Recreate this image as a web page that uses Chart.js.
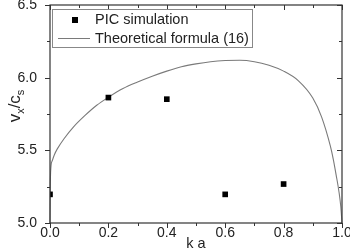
<!DOCTYPE html>
<html>
<head>
<meta charset="utf-8">
<script src="https://cdn.jsdelivr.net/npm/chart.js@4/dist/chart.umd.min.js"></script>
<style>
html,body{margin:0;padding:0;background:#fff;}
#wrap{width:350px;height:250px;position:relative;}
</style>
</head>
<body>
<div id="wrap"><canvas id="c"></canvas></div>
<script>
// ---- data ----
const picKa = [0.0, 0.2, 0.4, 0.6, 0.8];
const picV  = [5.197, 5.863, 5.852, 5.197, 5.268];
const curveKa = [0, 0.001, 0.003, 0.008, 0.015, 0.025, 0.048, 0.08, 0.12, 0.16, 0.2, 0.25, 0.3, 0.35, 0.4, 0.45, 0.5, 0.55, 0.6, 0.65, 0.7, 0.75, 0.8, 0.85, 0.9, 0.93, 0.96, 0.97, 0.98, 0.99, 0.996, 1.0];
const curveV  = [5.0, 5.25, 5.38, 5.43, 5.47, 5.51, 5.58, 5.66, 5.74, 5.81, 5.865, 5.925, 5.97, 6.01, 6.045, 6.075, 6.095, 6.11, 6.118, 6.12, 6.11, 6.085, 6.045, 5.98, 5.86, 5.73, 5.53, 5.44, 5.33, 5.21, 5.11, 5.0];
const xTickLabels = ['0.0', '0.2', '0.4', '0.6', '0.8', '1.0'];
const yTickLabels = ['5.0', '5.5', '6.0', '6.5'];
const seriesNames = ['PIC simulation', 'Theoretical formula (16)'];
const xTitle = 'k a';

const FONT = "'Liberation Sans', Arial, sans-serif";
const INK = '#222';

const framePlugin = {
  id: 'frame',
  afterDatasetsDraw(chart) {
    const {ctx, chartArea: a, scales: {x, y}} = chart;
    ctx.save();
    ctx.strokeStyle = '#333';
    ctx.lineWidth = 1.2;
    ctx.strokeRect(a.left, a.top, a.right - a.left, a.bottom - a.top);
    ctx.lineWidth = 1;
    ctx.beginPath();
    x.ticks.forEach(t => {
      const px = Math.round(x.getPixelForValue(t.value)) + 0.5;
      const major = Math.round(t.value * 10) % 2 === 0;
      const len = major ? 5 : 3;
      ctx.moveTo(px, a.bottom); ctx.lineTo(px, a.bottom + len);
      ctx.moveTo(px, a.top); ctx.lineTo(px, a.top + len);
    });
    y.ticks.forEach(t => {
      const py = Math.round(y.getPixelForValue(t.value)) + 0.5;
      const major = Math.round(t.value * 4) % 2 === 0;
      const len = major ? 5 : 3;
      ctx.moveTo(a.left - len, py); ctx.lineTo(a.left, py);
      ctx.moveTo(a.right - len, py); ctx.lineTo(a.right, py);
    });
    ctx.stroke();
    ctx.restore();
  },
  afterDraw(chart) {
    const {ctx, chartArea: a} = chart;
    ctx.save();
    // legend box
    const lx = a.left + 2, ly = a.top + 4, lw = 200, lh = 38;
    ctx.fillStyle = '#fff';
    ctx.fillRect(lx, ly, lw, lh);
    ctx.strokeStyle = '#888';
    ctx.lineWidth = 1;
    ctx.strokeRect(lx + 0.5, ly + 0.5, lw, lh);
    const ds0 = chart.data.datasets[0], ds1 = chart.data.datasets[1];
    ctx.fillStyle = ds0.backgroundColor;
    ctx.fillRect(lx + 20, ly + 8, 6, 6);
    ctx.strokeStyle = ds1.borderColor;
    ctx.lineWidth = 1;
    ctx.beginPath();
    ctx.moveTo(lx + 6, ly + 29.5); ctx.lineTo(lx + 38, ly + 29.5);
    ctx.stroke();
    ctx.fillStyle = INK;
    ctx.font = '14.5px ' + FONT;
    ctx.textBaseline = 'middle';
    ctx.textAlign = 'left';
    ctx.fillText(ds0.label, lx + 43, ly + 11);
    ctx.fillText(ds1.label, lx + 43, ly + 30);
    // x title
    ctx.font = '14.5px ' + FONT;
    ctx.textAlign = 'center';
    ctx.fillText(xTitle, (a.left + a.right) / 2, 244);
    // y title v_x / c_s
    ctx.translate(20, (a.top + a.bottom) / 2 - 8);
    ctx.rotate(-Math.PI / 2);
    ctx.textBaseline = 'alphabetic';
    ctx.textAlign = 'left';
    const big = '17px ' + FONT, small = '11px ' + FONT;
    const parts = [['v', big, 0], ['x', small, 4], ['/c', big, 0], ['s', small, 4]];
    let w = 0;
    parts.forEach(p => { ctx.font = p[1]; w += ctx.measureText(p[0]).width; });
    let cx = -w / 2;
    parts.forEach(p => { ctx.font = p[1]; ctx.fillText(p[0], cx, p[2]); cx += ctx.measureText(p[0]).width; });
    ctx.restore();
  }
};

new Chart(document.getElementById('c'), {
  type: 'scatter',
  data: {
    datasets: [
      {
        label: seriesNames[0],
        data: picKa.map((k, i) => ({x: k, y: picV[i]})),
        backgroundColor: '#000',
        borderColor: '#000',
        pointStyle: 'rect',
        pointRadius: 4,
        pointHoverRadius: 4,
        borderWidth: 0,
        clip: 0,
        order: 0
      },
      {
        label: seriesNames[1],
        data: curveKa.map((k, i) => ({x: k, y: curveV[i]})),
        showLine: true,
        borderColor: '#7a7a7a',
        borderWidth: 1.1,
        pointRadius: 0,
        cubicInterpolationMode: 'monotone',
        clip: 1,
        order: 1
      }
    ]
  },
  options: {
    responsive: true,
    maintainAspectRatio: false,
    animation: false,
    events: [],
    layout: {padding: {top: 5, right: 8, left: 0, bottom: 0}},
    plugins: {legend: {display: false}, tooltip: {enabled: false}},
    scales: {
      x: {
        type: 'linear', min: 0, max: 1,
        grid: {display: false},
        border: {display: false},
        ticks: {
          stepSize: 0.1, autoSkip: false, maxRotation: 0, padding: -6,
          color: INK, font: {family: FONT, size: 14},
          callback: v => {
            const i = Math.round(v * 10);
            return i % 2 === 0 ? xTickLabels[i / 2] : '';
          }
        },
        afterFit: s => { s.height = 27; s.paddingLeft = 0; s.paddingRight = 0; }
      },
      y: {
        type: 'linear', min: 5, max: 6.5,
        grid: {display: false},
        border: {display: false},
        ticks: {
          stepSize: 0.25, autoSkip: false, padding: 5,
          color: INK, font: {family: FONT, size: 14},
          callback: v => {
            const i = Math.round((v - 5) * 4);
            return i % 2 === 0 ? yTickLabels[i / 2] : '';
          }
        },
        afterFit: s => { s.width = 50; s.paddingTop = 0; s.paddingBottom = 0; }
      }
    }
  },
  plugins: [framePlugin]
});
</script>
</body>
</html>
